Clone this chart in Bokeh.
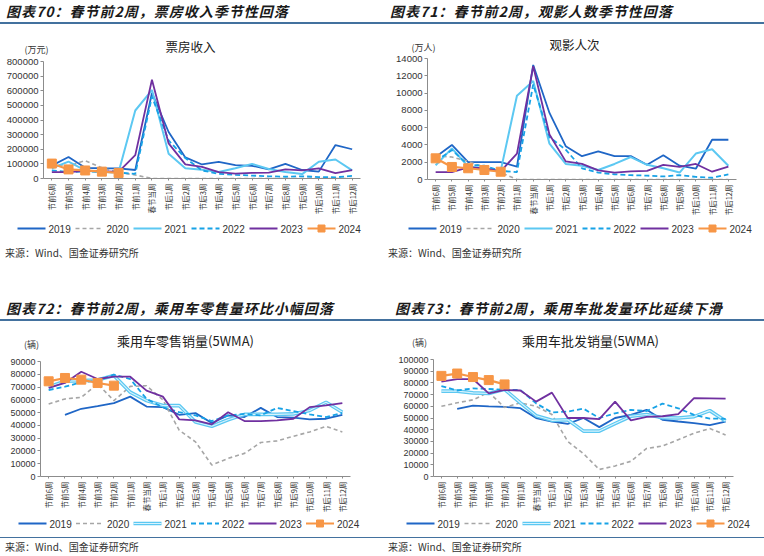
import math
import numpy as np
from bokeh.plotting import figure
from bokeh.models import (FactorRange, Range1d, FixedTicker, BasicTickFormatter, Div, Spacer)
from bokeh.layouts import column, row
from bokeh.embed import file_html
from bokeh.resources import INLINE
from bokeh.core.properties import value

weeks = ["节前6周", "节前5周", "节前4周", "节前3周", "节前2周", "节前1周", "春节当周",
         "节后1周", "节后2周", "节后3周", "节后4周", "节后5周", "节后6周", "节后7周",
         "节后8周", "节后9周", "节后10周", "节后11周", "节后12周"]
years = ["2019", "2020", "2021", "2022", "2023", "2024"]

# 票房收入 (万元)
box_2019 = [88000, 147000, 73000, 70000, 69000, 58000, 585000, 318000, 144000, 96000, 113000, 91000, 87000, 62000, 100000, 58000, 47000, 229000, 200000]
box_2020 = [100000, 86000, 122000, 73000, 42000, 24000, 0, 0, 0, 0, 0, 0, 0, 0, 0, 0, 0, 0, 0]
box_2021 = [70000, 115000, 55000, 45000, 42000, 465000, 605000, 170000, 70000, 60000, 45000, 70000, 100000, 65000, 45000, 30000, 115000, 130000, 55000]
box_2022 = [55000, 45000, 48000, 45000, 40000, 32000, 560000, 260000, 140000, 55000, 32000, 25000, 20000, 15000, 12000, 15000, 10000, 8000, 18000]
box_2023 = [44000, 44000, 52000, 50000, 45000, 160000, 675000, 240000, 97000, 80000, 44000, 33000, 38000, 40000, 62000, 56000, 69000, 36000, 58000]
box_2024 = [102000, 62000, 55000, 47000, 38000]

# 观影人次 (万人)
mov_2019 = [2600, 4000, 2000, 2000, 2000, 1500, 13250, 7700, 3850, 2700, 3250, 2700, 2700, 1700, 2800, 1600, 1250, 4600, 4600]
mov_2020 = [2750, 2600, 2100, 1400, 800, 0, 0, 0, 0, 0, 0, 0, 0, 0, 0, 0, 0, 0, 0]
mov_2021 = [1650, 3600, 1500, 1300, 1000, 9700, 11400, 4150, 1800, 1600, 1100, 1800, 2600, 1700, 1300, 800, 3000, 3500, 1600]
mov_2022 = [2100, 3400, 1700, 1600, 1000, 850, 11000, 4900, 3450, 1300, 800, 600, 500, 450, 350, 500, 300, 200, 600]
mov_2023 = [850, 850, 1400, 1300, 950, 3000, 13100, 5200, 2100, 1800, 1050, 800, 950, 1000, 1700, 1450, 1800, 900, 1500]
mov_2024 = [2450, 1450, 1300, 1100, 900]

# 乘用车零售销量 (5WMA, 辆)
ret_2019 = [None, 48300, 53000, 55000, 57400, 62500, 54700, 54300, 48300, 49600, 41900, 47800, 46500, 53700, 46500, 46000, 44700, 45200, 48300]
ret_2020 = [56800, 60700, 62000, 72400, 59400, 70500, 71000, 60000, 36200, 27100, 9000, 14200, 18100, 26600, 27900, 31500, 34900, 39300, 34900]
ret_2021 = [70000, 74500, 75000, 75500, 79000, 66000, 59400, 55500, 55500, 42600, 39300, 44400, 48600, 48600, 48600, 49000, 51700, 58100, 50300]
ret_2022 = [67700, 70300, 73700, 75000, 79700, 76300, 60700, 54200, 50300, 47800, 43400, 47800, 49000, 47800, 53700, 51200, 48600, 46500, 49800]
ret_2023 = [69300, 73200, 82000, 76300, 78100, 78100, 67200, 62500, 44700, 43900, 40800, 50300, 43400, 43400, 43900, 45200, 54300, 55600, 57400]
ret_2024 = [74500, 77100, 75800, 73200, 71100]

# 乘用车批发销量 (5WMA, 辆)
whs_2019 = [None, 57800, 60600, 60000, 59500, 58400, 50000, 47000, 45000, 50000, 42200, 50000, 52700, 57000, 48500, 47000, 45600, 44000, 47000]
whs_2020 = [60000, 63000, 65500, 72000, 59000, 63000, 60000, 53000, 30000, 19500, 6000, 9000, 13000, 24000, 26000, 31500, 37000, 41000, 35500]
whs_2021 = [73000, 73000, 71500, 71000, 74500, 63000, 52000, 48000, 48500, 38800, 38800, 45200, 51500, 53000, 50300, 50000, 51200, 56300, 47500]
whs_2022 = [77300, 73500, 75300, 74800, 74000, 74000, 62500, 54700, 55500, 58000, 50000, 54000, 57000, 56000, 62300, 58300, 52700, 49500, 49300]
whs_2023 = [81000, 83300, 83300, 71000, 74000, 73500, 64000, 71700, 50000, 50000, 49000, 64000, 48000, 51000, 51500, 53300, 67000, 66800, 66500]
whs_2024 = [86000, 88000, 85000, 82400, 78700]

colors = {"2019": "#1F66C6", "2020": "#A6A6A6", "2021": "#5CC8F2",
          "2022": "#17A2E6", "2023": "#7030A0", "2024": "#F79646"}
LINE_COL = "#43719E"
CJK = "Noto Sans CJK SC"


def clean(a):
    return [np.nan if v is None else v for v in a]


def no_align(p):
    try:
        p.frame_align = False
    except Exception:
        pass


def header_div(text, width, pad):
    html = ('<div style="width:%dpx;height:24px;box-sizing:border-box;border-bottom:2px solid %s;'
            'padding-left:%dpx;padding-top:3px;font-family:\'%s\';font-size:14px;font-weight:bold;'
            'font-style:italic;letter-spacing:1px;line-height:16px;color:#1a1a1a;white-space:nowrap;">%s</div>'
            % (width, LINE_COL, pad, CJK, text))
    return Div(text=html, width=width, height=24, margin=0)


def source_div(width, height, gap, line):
    border = ("border-top:1.5px solid %s;" % LINE_COL) if line else ""
    html = ('<div style="width:%dpx;height:%dpx;box-sizing:border-box;padding-top:%dpx;">'
            '<div style="%spadding-top:3px;padding-left:5px;font-family:\'%s\';font-size:10px;'
            'line-height:12px;color:#333;white-space:nowrap;">来源：Wind、国金证券研究所</div></div>'
            % (width, height, gap, border, CJK))
    return Div(text=html, width=width, height=height, margin=0)


def plain_fig(width, height):
    q = figure(width=width, height=height, x_range=Range1d(0, width), y_range=Range1d(0, height),
               output_backend="svg", toolbar_location=None, title=None,
               x_axis_location=None, y_axis_location=None,
               min_border=0, min_border_left=0, min_border_right=0,
               min_border_top=0, min_border_bottom=0)
    q.grid.visible = False
    q.outline_line_color = None
    no_align(q)
    return q


def draw_series(p, yr, xs, vals, compound):
    c = colors[yr]
    if yr == "2020":
        p.line(xs, vals, line_color=c, line_width=1.6, line_dash="4 3")
    elif yr == "2022":
        p.line(xs, vals, line_color=c, line_width=1.8, line_dash="5 3")
    elif yr == "2021" and compound:
        p.line(xs, vals, line_color=c, line_width=3.6)
        p.line(xs, vals, line_color="#D8F3FD", line_width=1.1)
    elif yr == "2021":
        p.line(xs, vals, line_color=c, line_width=2.0)
    elif yr == "2024":
        p.line(xs, vals, line_color=c, line_width=2.2)
        if len(xs) == 2:
            p.scatter([(xs[0] + xs[1]) / 2], [vals[0]], marker="square", size=7,
                      fill_color=c, line_color=c)
        else:
            p.scatter(xs, vals, marker="square", size=9, fill_color=c, line_color=c)
    else:
        p.line(xs, vals, line_color=c, line_width=1.8)


def title_fig(width, height, title, tx, ty, tfs, unit, ux, uy):
    q = plain_fig(width, height)
    q.text(x=[tx], y=[ty], text=[title], text_font=value(CJK), text_font_size=value(tfs),
           text_color="#222222", text_align="center", text_baseline="middle")
    q.text(x=[ux], y=[uy], text=[unit], text_font=value(CJK), text_font_size=value("9px"),
           text_color="#333333", text_align="center", text_baseline="middle")
    return q


def legend_fig(width, left, pitch, compound):
    q = plain_fig(width, 16)
    for i, yr in enumerate(years):
        x0 = left + i * pitch
        draw_series(q, yr, [x0, x0 + 28], [8, 8], compound)
        q.text(x=[x0 + 31], y=[8], text=[yr], text_font=value("Liberation Sans"),
               text_font_size=value("10px"), text_color="#333333",
               text_align="left", text_baseline="middle")
    return q


def make_fig(ymax, step, series, width, height, bl, br, bt, bb, tick_fs, compound):
    p = figure(x_range=FactorRange(*weeks, range_padding=0), y_range=Range1d(0, ymax),
               width=width, height=height, output_backend="svg", toolbar_location=None,
               title=None,
               min_border_left=bl, min_border_right=br, min_border_top=bt, min_border_bottom=bb)
    p.outline_line_color = None
    p.xgrid.visible = False
    p.ygrid.visible = False
    no_align(p)

    ya = p.yaxis[0]
    ya.ticker = FixedTicker(ticks=list(range(0, ymax + 1, step)))
    ya.formatter = BasicTickFormatter(use_scientific=False)
    ya.major_label_text_font = "Liberation Sans"
    ya.major_label_text_font_size = tick_fs
    ya.major_label_text_color = "#333333"
    ya.major_label_standoff = 2
    ya.major_tick_out = 3
    ya.major_tick_in = 0
    ya.minor_tick_out = 0
    ya.minor_tick_in = 0
    ya.axis_line_color = "#8C8C8C"
    ya.major_tick_line_color = "#8C8C8C"

    xa = p.xaxis[0]
    xa.major_label_orientation = math.pi / 2
    xa.major_label_text_font = CJK
    xa.major_label_text_font_size = "7.5px"
    xa.major_label_text_color = "#333333"
    xa.major_label_standoff = 3
    xa.major_tick_out = 2
    xa.major_tick_in = 0
    xa.axis_line_color = "#8C8C8C"
    xa.major_tick_line_color = "#8C8C8C"

    for yr in years:
        vals = clean(series[yr])
        draw_series(p, yr, weeks[:len(vals)], vals, compound)
    return p


LW, RW = 383, 381

f70 = make_fig(800000, 100000,
               dict(zip(years, [box_2019, box_2020, box_2021, box_2022, box_2023, box_2024])),
               LW, 164, 43, 23, 5, 42, "9.5px", False)
f71 = make_fig(14000, 2000,
               dict(zip(years, [mov_2019, mov_2020, mov_2021, mov_2022, mov_2023, mov_2024])),
               RW, 166, 44, 28, 4, 41, "9.5px", False)
f72 = make_fig(90000, 10000,
               dict(zip(years, [ret_2019, ret_2020, ret_2021, ret_2022, ret_2023, ret_2024])),
               LW, 160, 40, 33, 6, 38, "9px", True)
f73 = make_fig(100000, 10000,
               dict(zip(years, [whs_2019, whs_2020, whs_2021, whs_2022, whs_2023, whs_2024])),
               RW, 162, 50, 31, 6, 38, "9px", True)

c70 = column(header_div("图表70：春节前2周，票房收入季节性回落", LW, 6),
             title_fig(LW, 32, "票房收入", 190, 10, "12.5px", "(万元)", 36, 7.5),
             f70, legend_fig(LW, 17, 58, False), source_div(LW, 26, 8, False), spacing=0)
c71 = column(header_div("图表71：春节前2周，观影人数季节性回落", RW, 7),
             title_fig(RW, 30, "观影人次", 191, 10, "12.5px", "(万人)", 40, 7.5),
             f71, legend_fig(RW, 25, 58, False), source_div(RW, 26, 8, False), spacing=0)
c72 = column(header_div("图表72：春节前2周，乘用车零售量环比小幅回落", LW, 6),
             title_fig(LW, 34, "乘用车零售销量(5WMA)", 185, 15, "13px", "(辆)", 31, 11),
             f72, legend_fig(LW, 18, 57.5, True), source_div(LW, 25, 6, True), spacing=0)
c73 = column(header_div("图表73：春节前2周，乘用车批发量环比延续下滑", RW, 12),
             title_fig(RW, 32, "乘用车批发销量(5WMA)", 207, 13, "13px", "(辆)", 36, 11),
             f73, legend_fig(RW, 23, 58, True), source_div(RW, 25, 6, True), spacing=0)

layout = column(row(c70, c71, spacing=0), Spacer(width=764, height=35),
                row(c72, c73, spacing=0), spacing=0)

open("out.html", "w").write(file_html(layout, INLINE))
